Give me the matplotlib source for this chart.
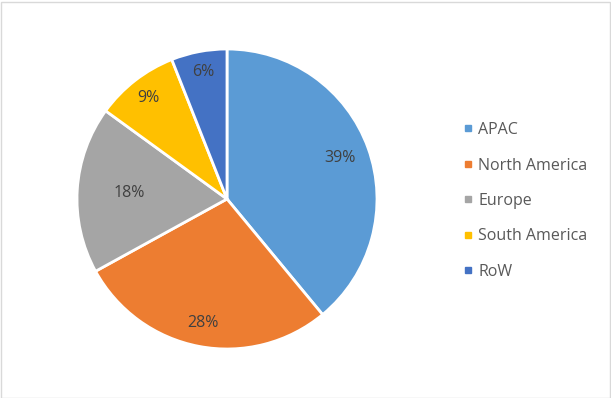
import numpy as np
import matplotlib.pyplot as plt
from matplotlib.patches import Rectangle
from matplotlib.lines import Line2D

regions = ['APAC', 'North America', 'Europe', 'South America', 'RoW']
shares = [39, 28, 18, 9, 6]
colors = ['#5b9bd5', '#ed7d31', '#a5a5a5', '#ffc000', '#4472c4']
label_r = [0.8, 0.84, 0.65, 0.85, 0.86]

plt.rcParams['font.family'] = ['Open Sans', 'DejaVu Sans']

fig = plt.figure(figsize=(6.11, 3.98), dpi=100)
fig.patches.append(Rectangle((0.5 / 611, 0.5 / 398), 609 / 611, 396 / 398,
                             transform=fig.transFigure, fill=False,
                             edgecolor='#d9d9d9', linewidth=1))

ax = fig.add_axes([77 / 611, 49 / 398, 300 / 611, 300 / 398])
wedges, _ = ax.pie(shares, colors=colors, startangle=90, counterclock=False,
                   radius=1, wedgeprops=dict(edgecolor='white', linewidth=2))
for w, v, r in zip(wedges, shares, label_r):
    ang = np.deg2rad((w.theta1 + w.theta2) / 2)
    ax.text(r * np.cos(ang), r * np.sin(ang), f'{v}%', ha='center', va='center',
            fontsize=11.5, color='#404040')
ax.set_xlim(-1, 1)
ax.set_ylim(-1, 1)
ax.set_aspect('equal')
ax.axis('off')

handles = [Line2D([], [], marker='s', linestyle='', markersize=5,
                  markerfacecolor=c, markeredgecolor=c) for c in colors]
fig.legend(handles, regions, loc='center left', bbox_to_anchor=(456 / 611, 197 / 398),
           frameon=False, fontsize=11.5, labelcolor='#595959', handlelength=0.5,
           handletextpad=0.4, labelspacing=1.22, borderpad=0)

fig.savefig('out.png', dpi=100)
